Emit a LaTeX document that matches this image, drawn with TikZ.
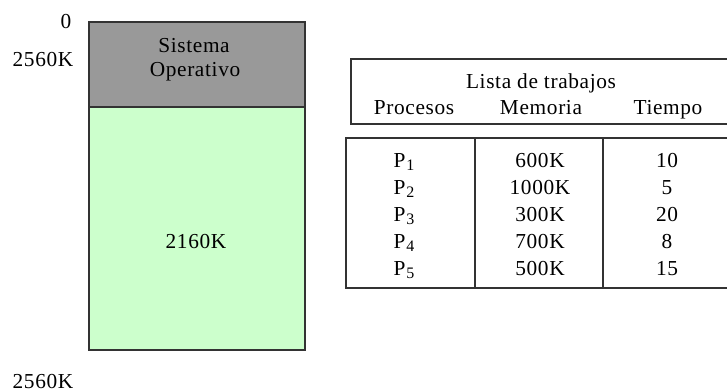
\documentclass[tikz,border=0pt]{standalone}
\usepackage{fontspec}
\setmainfont[LetterSpace=3]{Liberation Serif}
\definecolor{osgray}{HTML}{999999}
\definecolor{freegreen}{HTML}{CCFFCC}
\definecolor{edge}{HTML}{333333}
\tikzset{
  lbl/.style={inner sep=0pt, font=\fontsize{16}{18}\selectfont},
  box/.style={draw=edge, line width=1.1pt},
  tab/.style={draw=edge, line width=1.1pt},
}
\newcommand{\proc}[1]{P\kern0.5pt\raisebox{-0.35ex}{\fontsize{12}{12}\selectfont #1}}
\begin{document}
\begin{tikzpicture}[x=0.75pt, y=-0.75pt]
\useasboundingbox (0,0) rectangle (727,392);
% memory bar
\path[box, fill=osgray] (89,22) rectangle (305,107);
\path[box, fill=freegreen] (89,107) rectangle (305,350);
\node[lbl, anchor=base] (so1) at (194,53) {Sistema};
\node[lbl, anchor=base] (so2) at (195,77) {Operativo};
\node[lbl] (free) at (196,242) {2160K};
\node[lbl] (a0) at (66,22) {0};
\node[lbl] (a1) at (43,60) {2560K};
\node[lbl] (a2) at (43,382) {2560K};
% header table
\draw[tab] (728,59) -- (351,59) -- (351,124) -- (728,124);
\node[lbl, anchor=base] (title) at (541,89) {Lista de trabajos};
\node[lbl, anchor=base] (hp) at (414,115) {Procesos};
\node[lbl, anchor=base] (hm) at (541,115) {Memoria};
\node[lbl, anchor=base] (ht) at (668,115) {Tiempo};
% lower table
\draw[tab] (728,138) -- (346,138) -- (346,288) -- (728,288);
\draw[tab] (475,138) -- (475,288);
\draw[tab] (603,138) -- (603,288);
\foreach \i/\m/\t [count=\k from 0] in {1/600K/10, 2/1000K/5, 3/300K/20, 4/700K/8, 5/500K/15}{
  \node[lbl, anchor=base] (p\i) at (404,167+27*\k) {\proc{\i}};
  \node[lbl, anchor=base] (m\i) at (540,167+27*\k) {\m};
  \node[lbl, anchor=base] (t\i) at (667,167+27*\k) {\t};
}
\end{tikzpicture}
\end{document}
